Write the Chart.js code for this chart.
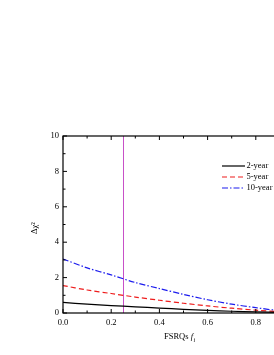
<!DOCTYPE html>
<html>
<head>
<meta charset="utf-8">
<script src="https://cdn.jsdelivr.net/npm/chart.js@4"></script>
<style>
    html, body { margin: 0; padding: 0; overflow: hidden; background: #fff; width: 274px; height: 355px; }
    canvas { display: block; }
</style>
</head>
<body>
<canvas id="chart" width="340" height="355"></canvas>
<script>
// fraction of FSRQs
let fValues = [0.0, 0.1, 0.2, 0.3, 0.4, 0.5, 0.6, 0.7, 0.8, 0.9, 1.0];

let twoYear = [0.60, 0.50, 0.42, 0.35, 0.28, 0.21, 0.15, 0.10, 0.06, 0.03, 0.00];
let fiveYear = [1.55, 1.30, 1.10, 0.90, 0.72, 0.55, 0.40, 0.27, 0.16, 0.07, 0.01];
let tenYear = [3.05, 2.55, 2.15, 1.72, 1.38, 1.05, 0.75, 0.50, 0.30, 0.13, 0.02];

let seriesNames = ["2-year", "5-year", "10-year"];
let markerF = 0.25;

let xTicks = [0.0, 0.2, 0.4, 0.6, 0.8, 1.0];
let yTicks = [0, 2, 4, 6, 8, 10];

const FONT = "'Liberation Serif', 'DejaVu Serif', serif";

function toPoints(ys) {
    return fValues.map((f, i) => ({ x: f, y: ys[i] }));
}

const framePlugin = {
    id: "frame",
    beforeDatasetsDraw(chart) {
        let ctx = chart.ctx;
        let a = chart.chartArea;
        let x = chart.scales.x.getPixelForValue(markerF);
        ctx.save();
        ctx.strokeStyle = "#c850c8";
        ctx.lineWidth = 1;
        ctx.beginPath();
        ctx.moveTo(Math.round(x) + 0.5, a.top);
        ctx.lineTo(Math.round(x) + 0.5, a.bottom);
        ctx.stroke();
        ctx.restore();
    },
    afterDraw(chart) {
        let ctx = chart.ctx;
        let a = chart.chartArea;
        let xs = chart.scales.x;
        let ys = chart.scales.y;
        ctx.save();
        ctx.strokeStyle = "#000";
        ctx.lineWidth = 1.2;
        ctx.strokeRect(a.left, a.top, a.right - a.left, a.bottom - a.top);

        // inward ticks, major and minor
        ctx.lineWidth = 1;
        ctx.beginPath();
        for (let i = 0; i <= 10; i++) {
            let v = i / 10;
            let len = i % 2 === 0 ? 4 : 2.5;
            let px = xs.getPixelForValue(v);
            ctx.moveTo(px, a.bottom); ctx.lineTo(px, a.bottom - len);
            ctx.moveTo(px, a.top); ctx.lineTo(px, a.top + len);
        }
        for (let v = 0; v <= 10; v++) {
            let len = v % 2 === 0 ? 4 : 2.5;
            let py = ys.getPixelForValue(v);
            ctx.moveTo(a.left, py); ctx.lineTo(a.left + len, py);
            ctx.moveTo(a.right, py); ctx.lineTo(a.right - len, py);
        }
        ctx.stroke();

        // legend
        let rows = [166, 177, 188];
        chart.data.datasets.forEach((ds, i) => {
            ctx.strokeStyle = ds.borderColor;
            ctx.lineWidth = ds.borderWidth;
            ctx.setLineDash(ds.borderDash || []);
            ctx.beginPath();
            ctx.moveTo(222, rows[i]);
            ctx.lineTo(245, rows[i]);
            ctx.stroke();
            ctx.setLineDash([]);
            ctx.fillStyle = "#000";
            ctx.font = "8.5px " + FONT;
            ctx.textBaseline = "middle";
            ctx.textAlign = "left";
            ctx.fillText(ds.label, 246.5, rows[i]);
        });

        // x title
        ctx.fillStyle = "#000";
        ctx.textBaseline = "alphabetic";
        ctx.font = "8.5px " + FONT;
        let t1 = "FSRQs ";
        let w1 = ctx.measureText(t1).width;
        ctx.fillText(t1, 164, 339);
        ctx.font = "italic 8.5px " + FONT;
        ctx.fillText("f", 164 + w1, 339);
        let wf = ctx.measureText("f").width;
        ctx.font = "italic 6px " + FONT;
        ctx.fillText("i", 164 + w1 + wf + 0.5, 341.5);

        // y title
        ctx.translate(35, 228);
        ctx.rotate(-Math.PI / 2);
        ctx.font = "8.5px " + FONT;
        ctx.textAlign = "center";
        ctx.textBaseline = "middle";
        ctx.fillText("\u0394\u03c7\u00b2", 0, 0);
        ctx.restore();
    }
};

new Chart(document.getElementById("chart"), {
    type: "scatter",
    data: {
        datasets: [
            {
                label: seriesNames[0],
                data: toPoints(twoYear),
                showLine: true,
                borderColor: "#000000",
                borderWidth: 1.2,
                pointRadius: 0,
                tension: 0.3
            },
            {
                label: seriesNames[1],
                data: toPoints(fiveYear),
                showLine: true,
                borderColor: "#ee1c1c",
                borderWidth: 1.2,
                borderDash: [5, 3],
                pointRadius: 0,
                tension: 0.3
            },
            {
                label: seriesNames[2],
                data: toPoints(tenYear),
                showLine: true,
                borderColor: "#1c1cee",
                borderWidth: 1.2,
                borderDash: [6, 2, 1.5, 2],
                pointRadius: 0,
                tension: 0.3
            }
        ]
    },
    options: {
        responsive: false,
        devicePixelRatio: 1,
        animation: false,
        layout: { padding: { top: 136, right: 36, left: 0, bottom: 0 } },
        plugins: {
            legend: { display: false },
            tooltip: { enabled: false }
        },
        scales: {
            x: {
                type: "linear",
                min: 0,
                max: 1,
                afterFit: s => { s.height = 42; },
                afterBuildTicks: s => { s.ticks = xTicks.map(v => ({ value: v })); },
                grid: { display: false, drawTicks: false },
                border: { display: false },
                ticks: {
                    padding: 5,
                    color: "#000",
                    font: { family: FONT, size: 8.5 },
                    callback: v => v.toFixed(1)
                }
            },
            y: {
                type: "linear",
                min: 0,
                max: 10,
                afterFit: s => { s.width = 63; },
                afterBuildTicks: s => { s.ticks = yTicks.map(v => ({ value: v })); },
                grid: { display: false, drawTicks: false },
                border: { display: false },
                ticks: {
                    padding: 4,
                    color: "#000",
                    font: { family: FONT, size: 8.5 }
                }
            }
        }
    },
    plugins: [framePlugin]
});
</script>
</body>
</html>
